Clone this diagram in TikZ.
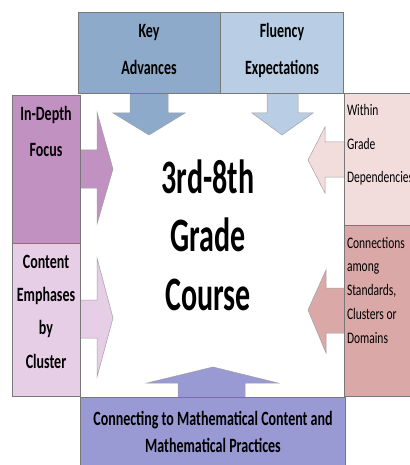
\documentclass[tikz,border=0pt]{standalone}
\usepackage{fontspec}
\usepackage{graphicx}
\setmainfont{Carlito}
\definecolor{keyblue}{RGB}{142,170,203}
\definecolor{flublue}{RGB}{185,205,229}
\definecolor{deeppurple}{RGB}{193,145,193}
\definecolor{lilac}{RGB}{230,206,230}
\definecolor{palepink}{RGB}{242,221,220}
\definecolor{rosepink}{RGB}{219,168,168}
\definecolor{periwinkle}{RGB}{153,153,211}
\definecolor{edgegray}{RGB}{120,120,120}
\newcommand\tallpar[6]{\scalebox{1}[#1]{\parbox[t]{#2pt}{#3\fontsize{#4pt}{#5pt}\selectfont #6}}}
\tikzset{
  panel/.style={draw=edgegray, line width=0.8pt},
  arrowshape/.style={draw=edgegray!70, line width=0.5pt},
  lbl/.style={inner sep=0pt, outer sep=0pt}
}
\begin{document}
\begin{tikzpicture}[x=1pt,y=-1pt]
\useasboundingbox[fill=white] (0,0) rectangle (409,465);
% arrows
\path[arrowshape, fill=keyblue] (130,93)--(130,113)--(113,113)--(149,135)--(185,113)--(168,113)--(168,93);
\path[arrowshape, fill=flublue] (267,93)--(267,113)--(252,113)--(282,135)--(313,113)--(298,113)--(298,93);
\path[arrowshape, fill=deeppurple] (80,150)--(97,150)--(97,112)--(113,169)--(97,224)--(97,188)--(80,188);
\path[arrowshape, fill=lilac] (80,300)--(97,300)--(97,258)--(113,318)--(97,377)--(97,338)--(80,338);
\path[arrowshape, fill=palepink] (344,142)--(325,142)--(325,127)--(308,160)--(325,193)--(325,177)--(344,177);
\path[arrowshape, fill=rosepink] (344,288)--(326,288)--(326,270)--(308,310)--(326,353)--(326,333)--(344,333);
\path[arrowshape, fill=periwinkle] (178,397)--(178,383)--(147,383)--(213,367)--(278,383)--(245,383)--(245,397);
% panels
\path[panel, fill=keyblue] (78,12) rectangle (220,93);
\path[panel, fill=flublue] (220,12) rectangle (343,93);
\path[panel, fill=deeppurple] (12,95) rectangle (80,243);
\path[panel, fill=lilac] (12,243) rectangle (80,396);
\path[panel, fill=palepink] (344,93) rectangle (411,225);
\path[panel, fill=rosepink] (344,225) rectangle (411,396);
\path[panel, fill=periwinkle] (80,397) rectangle (345,468);
% texts
\node[lbl, anchor=base] (keytxt) at (149,38) {\tallpar{1.45}{140}{\centering\bfseries}{14}{25.5}{Key\\Advances}};
\node[lbl, anchor=base] (flutxt) at (282,38) {\tallpar{1.45}{120}{\centering\bfseries}{14}{25.5}{Fluency\\Expectations}};
\node[lbl, anchor=base] (deptxt) at (46,121) {\tallpar{1.45}{68}{\centering\bfseries}{14}{24.8}{In-Depth\\Focus}};
\node[lbl, anchor=base] (emptxt) at (46,268) {\tallpar{1.45}{68}{\centering\bfseries}{14}{23}{Content\\Emphases\\by\\Cluster}};
\node[lbl, anchor=base west] (wittxt) at (347,116) {\tallpar{1.4}{80}{\raggedright}{11.5}{23.6}{Within\\Grade\\Dependencies}};
\node[lbl, anchor=base west] (contxt) at (347,248) {\tallpar{1.4}{80}{\raggedright}{11.5}{17.1}{Connections\\among\\Standards,\\Clusters or\\Domains}};
\node[lbl, anchor=base] (mathtxt) at (213,425) {\tallpar{1.45}{265}{\centering\bfseries}{14}{19.3}{Connecting to Mathematical Content and\\Mathematical Practices}};
\node[lbl, anchor=base] (course) at (208,193) {\tallpar{1.6}{200}{\centering\bfseries}{30}{36.6}{3rd-8th\\Grade\\Course}};
\end{tikzpicture}
\end{document}
